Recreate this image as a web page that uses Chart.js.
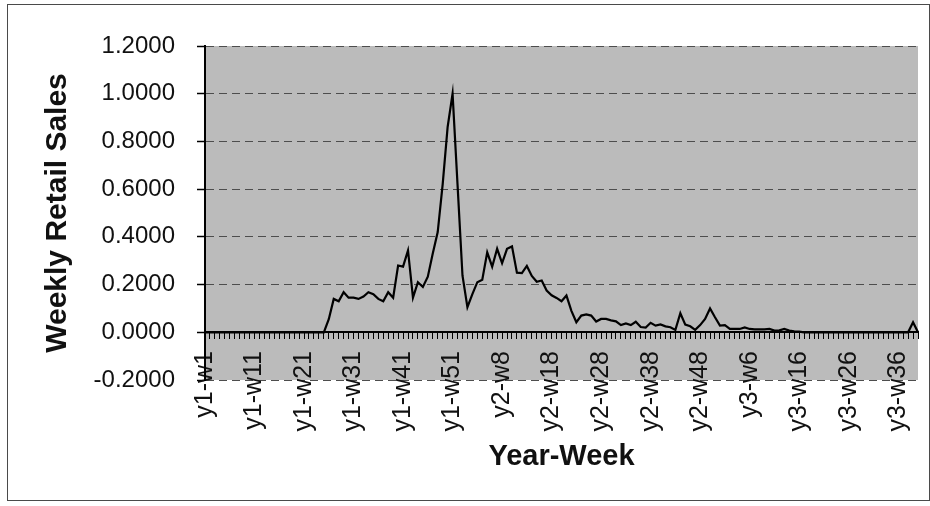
<!DOCTYPE html>
<html>
<head>
<meta charset="utf-8">
<title>Weekly Retail Sales</title>
<script src="https://cdn.jsdelivr.net/npm/chart.js@4.4.1/dist/chart.umd.min.js"></script>
<style>
  html, body { margin: 0; padding: 0; background: #fff; }
  #wrap { position: relative; width: 930px; height: 506px; }
  #frame { position: absolute; left: 7px; top: 4px; width: 921px; height: 495px;
           border: 1px solid #4a4a4a; pointer-events: none; }
  canvas { display: block; }
</style>
</head>
<body>
<div id="wrap">
  <canvas id="salesChart" width="930" height="506"></canvas>
  <div id="frame"></div>
</div>
<script>
// Weeks in each sales year (year 1 has 53 weeks, year 3 is partial)
const weeksPerYear = [53, 52, 40];

// Category labels y1-w1 ... y3-w40
const categories = [];
weeksPerYear.forEach((count, y) => {
  for (let w = 1; w <= count; w++) categories.push('y' + (y + 1) + '-w' + w);
});

// Labels printed under the axis (every tenth week)
const tickLabels = ['y1-w1', 'y1-w11', 'y1-w21', 'y1-w31', 'y1-w41', 'y1-w51',
  'y2-w8', 'y2-w18', 'y2-w28', 'y2-w38', 'y2-w48',
  'y3-w6', 'y3-w16', 'y3-w26', 'y3-w36'];

// Normalised weekly retail sales, one value per week
const salesValues = [
  0, 0, 0, 0, 0, 0, 0, 0, 0, 0,
  0, 0, 0, 0, 0, 0, 0, 0, 0, 0,
  0, 0, 0, 0, 0, 0.055, 0.14, 0.13, 0.168, 0.145,
  0.145, 0.14, 0.15, 0.168, 0.16, 0.14, 0.13, 0.168, 0.145, 0.28,
  0.275, 0.343, 0.145, 0.21, 0.19, 0.233, 0.33, 0.42, 0.62, 0.86,
  1.0, 0.62, 0.238, 0.105, 0.16, 0.21, 0.22, 0.335, 0.275, 0.35,
  0.29, 0.35, 0.36, 0.25, 0.248, 0.278, 0.236, 0.212, 0.217, 0.175,
  0.155, 0.144, 0.13, 0.154, 0.09, 0.042, 0.07, 0.075, 0.07, 0.045,
  0.056, 0.056, 0.05, 0.046, 0.03, 0.037, 0.03, 0.044, 0.022, 0.02,
  0.04, 0.028, 0.033, 0.025, 0.021, 0.01, 0.08, 0.032, 0.025, 0.01,
  0.03, 0.056, 0.1, 0.063, 0.028, 0.03, 0.014, 0.014, 0.014, 0.02,
  0.014, 0.012, 0.012, 0.012, 0.014, 0.007, 0.008, 0.014, 0.007, 0.004,
  0.003, 0, 0, 0, 0, 0, 0, 0, 0, 0,
  0, 0, 0, 0, 0, 0, 0, 0, 0, 0,
  0, 0, 0, 0.042, 0
];

// Value axis range and spacing
const yRange = [-0.2, 1.2];
const yStep = 0.2;

const FONT = '"Liberation Sans", Arial, Helvetica, sans-serif';
const GRID_DASH = [8, 5];

// Grey fill behind the plotting area
const plotBackground = {
  id: 'plotBackground',
  beforeDraw(chart) {
    const { ctx, chartArea: a } = chart;
    ctx.save();
    ctx.fillStyle = '#bbbbbb';
    ctx.fillRect(a.left, a.top, a.right - a.left, a.bottom - a.top);
    ctx.restore();
  }
};

new Chart(document.getElementById('salesChart'), {
  type: 'line',
  data: {
    labels: categories,
    datasets: [{
      data: salesValues,
      borderColor: '#000',
      borderWidth: 2.2,
      pointRadius: 0,
      tension: 0,
      fill: false,
      xAxisID: 'x',
      yAxisID: 'y'
    }]
  },
  options: {
    responsive: false,
    animation: false,
    layout: { padding: { left: 0, top: 46, right: 12, bottom: 0 } },
    plugins: { legend: { display: false }, tooltip: { enabled: false } },
    scales: {
      // bottom category axis: carries the axis title
      x: {
        type: 'category',
        position: 'bottom',
        offset: false,
        grid: { display: false, drawTicks: false },
        border: { display: false },
        ticks: { display: false, autoSkip: false },
        title: {
          display: true,
          text: 'Year-Week',
          color: '#111',
          font: { family: FONT, size: 29, weight: 'bold' },
          padding: { top: 0, bottom: 32 }
        },
        afterFit: (s) => { s.height = 126; }
      },
      // category labels hung from the bottom edge of the plot, rising into it
      xLabels: {
        type: 'category',
        position: { y: yRange[0] },
        offset: false,
        grid: { display: false, drawTicks: false },
        border: { display: false },
        ticks: {
          autoSkip: false,
          minRotation: 90,
          maxRotation: 90,
          padding: -29,
          color: '#111',
          font: { family: FONT, size: 25 },
          callback: function (value) {
            const label = this.getLabelForValue(value);
            return tickLabels.includes(label) ? label : '';
          }
        }
      },
      // category axis crossing at zero, with a tick mark per week
      x0: {
        type: 'category',
        position: { y: 0 },
        offset: false,
        grid: {
          display: true,
          drawOnChartArea: false,
          drawTicks: true,
          tickLength: 6,
          tickColor: '#000',
          tickWidth: 1
        },
        border: { display: true, color: '#000', width: 2 },
        ticks: { display: false, autoSkip: false }
      },
      y: {
        min: yRange[0],
        max: yRange[1],
        ticks: {
          stepSize: yStep,
          padding: 22,
          color: '#111',
          font: { family: FONT, size: 24 },
          callback: (v) => (Math.abs(v) < 1e-9 ? 0 : Number(v)).toFixed(4)
        },
        grid: {
          color: '#4d4d4d',
          lineWidth: 1,
          tickLength: 8,
          tickColor: '#000',
          tickWidth: 1.5,
          borderDash: GRID_DASH
        },
        border: { display: true, color: '#000', width: 2, dash: GRID_DASH },
        title: {
          display: true,
          text: 'Weekly Retail Sales',
          color: '#111',
          font: { family: FONT, size: 30, weight: 'bold' },
          padding: { top: 40, bottom: 0 }
        },
        afterFit: (s) => { s.width = 205; }
      }
    }
  },
  plugins: [plotBackground]
});
</script>
</body>
</html>
